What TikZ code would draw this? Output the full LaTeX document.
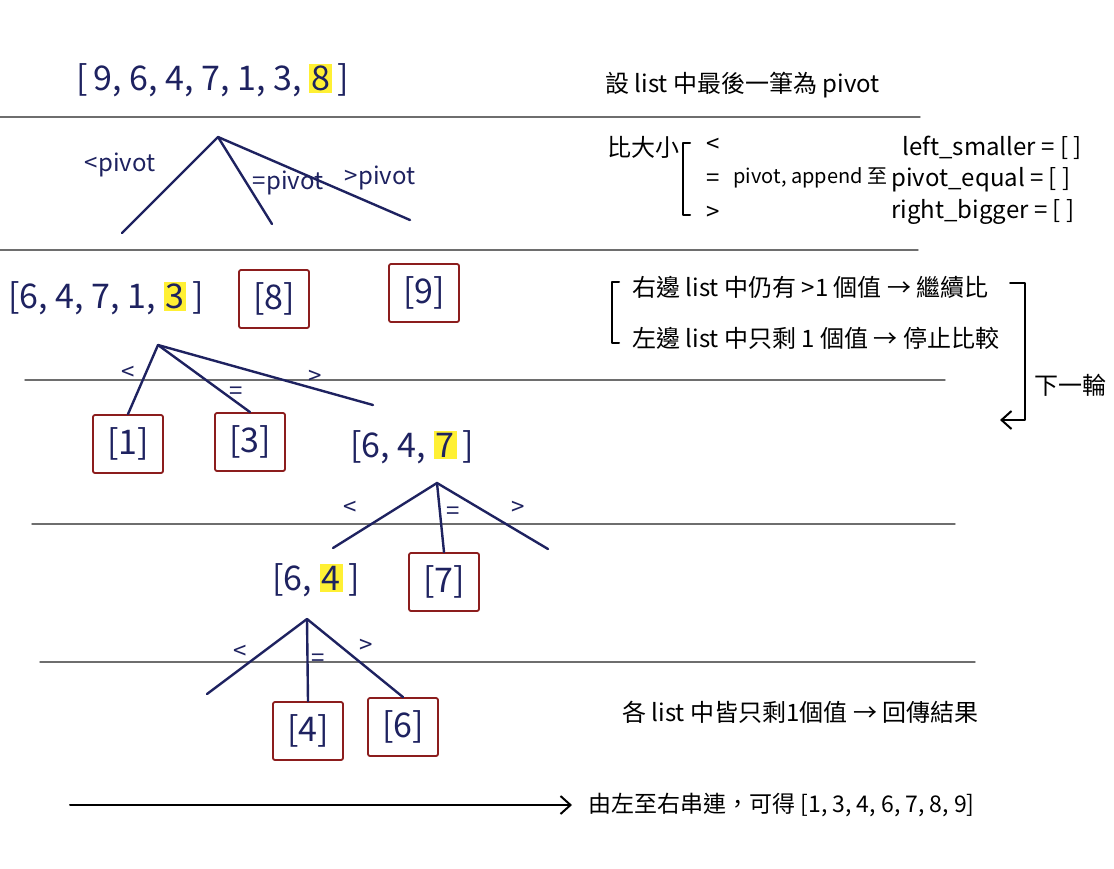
\documentclass[tikz,border=0pt]{standalone}
\usepackage{fontspec}
\setmainfont{Noto Sans CJK TC}
\usetikzlibrary{arrows.meta}
\definecolor{ink}{HTML}{1E2260}
\definecolor{boxred}{HTML}{8C1D1D}
\definecolor{rulegray}{HTML}{6E6E6E}
\definecolor{hlyellow}{HTML}{FFF034}
\newcommand{\hlpiv}[1]{{\setlength{\fboxsep}{1pt}\colorbox{hlyellow}{#1}}}
\tikzset{
	lst/.style={text=ink, font=\fontsize{17}{20}\selectfont, inner sep=2pt},
	leaf/.style={lst, draw=boxred, line width=0.9pt, minimum width=35pt, minimum height=29pt, rounded corners=1pt},
	branch/.style={draw=ink, line width=1.2pt},
	cmp/.style={text=ink, font=\fontsize{12}{14}\selectfont, inner sep=1pt},
	note/.style={font=\fontsize{12}{14}\selectfont, anchor=west, inner sep=0pt},
	rule/.style={draw=rulegray, line width=0.7pt},
}
\begin{document}
\begin{tikzpicture}[x=0.5pt, y=-0.5pt, line join=round, line cap=round, >={Straight Barb[length=5pt,width=9pt]}]
	\fill[white] (0,0) rectangle (1114,868);
	\useasboundingbox (0,0) rectangle (1114,868);
	% ruled lines
	\foreach \y/\xa/\xb in {117/0/920, 250/0/918, 380/25/945, 524/32/955, 662/40/975}
		\draw[rule] (\xa,\y)--(\xb,\y);

	% first split
	\node[lst] (l1) at (213,80) {[\,9, 6, 4, 7, 1, 3, \hlpiv{8}\,]};
	\coordinate (t1) at (218,137);
	\coordinate (t1a) at (122,233);
	\coordinate (t1b) at (272,224);
	\coordinate (t1c) at (410,220);
	\draw[branch] (t1a)--(t1)--(t1c);
	\draw[branch] (t1)--(t1b);
	\node[cmp] (c1a) at (120,165) {<pivot};
	\node[cmp] (c1b) at (288,183) {=pivot};
	\node[cmp] (c1c) at (380,178) {>pivot};

	\node[lst] (l2) at (106,298) {[6, 4, 7, 1, \hlpiv{3}\,]};
	\node[leaf] (b8) at (274,299) {[8]};
	\node[leaf] (b9) at (424,293) {[9]};

	% second split
	\node[leaf] (b1) at (128,444) {[1]};
	\node[leaf] (b3) at (250,442) {[3]};
	\node[lst] (l3) at (412,447) {[6, 4, \hlpiv{7}\,]};
	\coordinate (t2) at (158,345);
	\coordinate (t2c) at (373,405);
	\draw[branch] (b1.north)--(t2)--(t2c);
	\draw[branch] (t2)--(b3.north);
	\node[cmp] (c2a) at (128,373) {<};
	\node[cmp] (c2b) at (236,393) {=};
	\node[cmp] (c2c) at (315,377) {>};

	% third split
	\node[lst] (l4) at (316,580) {[6, \hlpiv{4}\,]};
	\node[leaf] (b7) at (444,582) {[7]};
	\coordinate (t3) at (437,483);
	\coordinate (t3a) at (333,548);
	\coordinate (t3c) at (548,549);
	\draw[branch] (t3a)--(t3)--(t3c);
	\draw[branch] (t3)--(b7.north);
	\node[cmp] (c3a) at (350,508) {<};
	\node[cmp] (c3b) at (453,513) {=};
	\node[cmp] (c3c) at (518,508) {>};

	% fourth split
	\node[leaf] (b4) at (308,731) {[4]};
	\node[leaf] (b6) at (403,727) {[6]};
	\coordinate (t4) at (307,619);
	\coordinate (t4a) at (207,694);
	\draw[branch] (t4a)--(t4)--(b6.north);
	\draw[branch] (t4)--(b4.north);
	\node[cmp] (c4a) at (240,652) {<};
	\node[cmp] (c4b) at (318,660) {=};
	\node[cmp] (c4c) at (366,646) {>};

	% notes on the right
	\node[note] (n1) at (605,85) {設 list 中最後一筆為 pivot};
	\node[note] (cmpn) at (607,147) {比大小};
	\draw[line width=1pt] (690,143) -| (683,215) -- (690,215);
	\node[note] (lt) at (706,145) {<};
	\node[note] (eq) at (706,180) {=};
	\node[note] (gt) at (706,213) {>};
	\node[note, font=\fontsize{10}{12}\selectfont] (app) at (733,178) {pivot, append 至};
	\node[note] (ls) at (902,148) {left\_smaller = [ ]};
	\node[note] (pe) at (891,180) {pivot\_equal = [ ]};
	\node[note] (rb) at (891,212) {right\_bigger = [ ]};

	\draw[line width=1pt] (619,282) -| (612,343) -- (619,343);
	\node[note] (r1) at (632,287) {右邊 list 中仍有 >1 個值 → 繼續比};
	\node[note] (r2) at (632,338) {左邊 list 中只剩 1 個值 → 停止比較};
	\coordinate (nxtA) at (1010,283);
	\coordinate (nxtB) at (1000,420);
	\draw[->, line width=1pt] (nxtA) -- ++(15,0) |- (nxtB);
	\node[note] (nxt) at (1034,385) {下一輪};

	\node[note] (fin) at (622,712) {各 list 中皆只剩1個值 → 回傳結果};
	\coordinate (arrL) at (70,805);
	\node[note, font=\fontsize{11.5}{14}\selectfont] (res) at (588,805) {由左至右串連，可得 [1, 3, 4, 6, 7, 8, 9]};
	\draw[->, line width=1pt, shorten >=8pt] (arrL) -- (res.west);
\end{tikzpicture}
\end{document}
